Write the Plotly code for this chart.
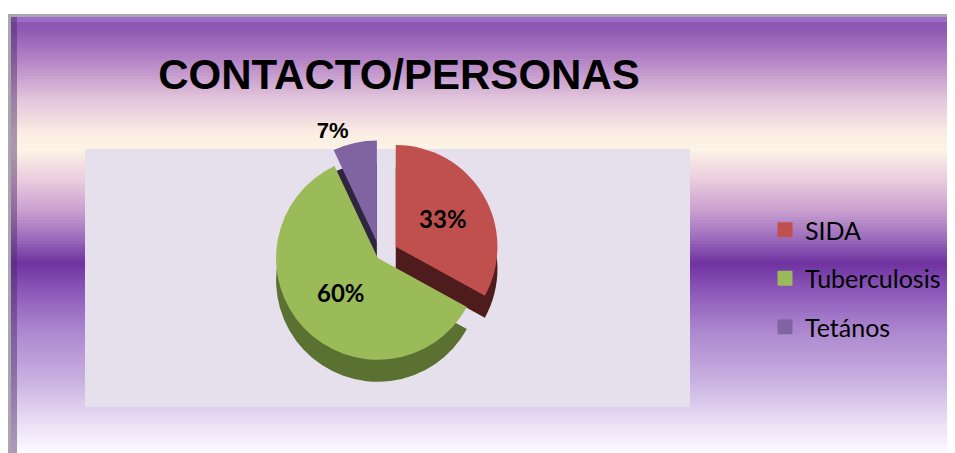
import plotly.graph_objects as go

# ---- data ----
categories = ["SIDA", "Tuberculosis", "Tetános"]
values = [33, 60, 7]
title_text = "CONTACTO/PERSONAS"

# ---- styling ----
top_colors = ["#c0504d", "#9bbb59", "#8064a2"]
side_colors = ["#4e1c1c", "#5a7132", "#30253f"]
pulls = [0.18, 0.03, 0.14]

OFF = 8  # page body margin
W, H = 955 - OFF, 453 - OFF


def px(x):
    return (x - OFF) / W


def py(y):
    return 1 - (y - OFF) / H


# background gradient stops (pixel y, rgb)
stops = [
    (16, (139, 85, 179)),
    (30, (142, 90, 180)),
    (60, (180, 132, 197)),
    (100, (228, 198, 220)),
    (135, (252, 238, 228)),
    (150, (253, 243, 230)),
    (180, (234, 204, 222)),
    (210, (202, 160, 208)),
    (240, (152, 104, 186)),
    (263, (112, 50, 160)),
    (290, (138, 86, 184)),
    (330, (172, 134, 206)),
    (380, (200, 176, 224)),
    (420, (232, 220, 244)),
    (453, (253, 250, 255)),
]


def color_at(y):
    for (y0, c0), (y1, c1) in zip(stops[:-1], stops[1:]):
        if y0 <= y <= y1:
            t = (y - y0) / (y1 - y0)
            return "rgb(%d,%d,%d)" % tuple(round(a + (b - a) * t) for a, b in zip(c0, c1))
    return "rgb(%d,%d,%d)" % stops[-1][1]


shapes = []
y = 16
while y < 453:
    shapes.append(dict(type="rect", xref="paper", yref="paper", layer="below",
                       x0=px(10), x1=1, y0=max(py(y + 3), 0), y1=py(y),
                       fillcolor=color_at(y + 1.5), line=dict(width=0)))
    y += 3

# frame / bevel
shapes += [
    dict(type="rect", xref="paper", yref="paper", layer="below",
         x0=px(8), x1=px(11), y0=0, y1=py(14),
         fillcolor="rgb(170,165,175)", line=dict(width=0)),
    dict(type="rect", xref="paper", yref="paper", layer="below",
         x0=px(8), x1=1, y0=py(17), y1=py(14),
         fillcolor="rgb(170,165,175)", line=dict(width=0)),
    dict(type="rect", xref="paper", yref="paper", layer="below",
         x0=px(11), x1=1, y0=py(22), y1=py(17),
         fillcolor="rgba(160,110,205,0.9)", line=dict(width=0)),
    dict(type="rect", xref="paper", yref="paper", layer="below",
         x0=px(11), x1=px(17), y0=0, y1=py(17),
         fillcolor="rgba(70,40,100,0.45)", line=dict(width=0)),
    # plot area
    dict(type="rect", xref="paper", yref="paper", layer="below",
         x0=px(85), x1=px(690), y0=py(407), y1=py(149),
         fillcolor="#e6e0ec", line=dict(width=0)),
]

fig = go.Figure()

# depth (side) of the pie
fig.add_trace(go.Pie(
    labels=categories, values=values, sort=False, direction="clockwise",
    rotation=0, pull=pulls,
    marker=dict(colors=side_colors, line=dict(width=0)),
    textinfo="none", hoverinfo="skip", showlegend=False,
    domain=dict(x=[px(260), px(500)], y=[py(398), py(158)]),
))

# top face
fig.add_trace(go.Pie(
    labels=categories, values=values, sort=False, direction="clockwise",
    rotation=0, pull=pulls,
    marker=dict(colors=top_colors, line=dict(width=0)),
    texttemplate="<b>%{percent:.0%}</b>",
    textposition=["inside", "inside", "outside"],
    textfont=dict(color="black",
                  family=["Lato, Open Sans", "Lato, Open Sans", "Liberation Sans, Arial"],
                  size=[24, 24, 22]),
    insidetextorientation="horizontal",
    showlegend=False,
    domain=dict(x=[px(260), px(500)], y=[py(376), py(136)]),
))

# legend entries
for name, col in zip(categories, top_colors):
    fig.add_trace(go.Scatter(
        x=[None], y=[None], mode="markers", name=name, legendgroup=name,
        marker=dict(symbol="square", size=15, color=col),
    ))

fig.update_layout(
    width=W, height=H,
    margin=dict(l=0, r=0, t=0, b=0),
    paper_bgcolor="white",
    plot_bgcolor="rgba(0,0,0,0)",
    shapes=shapes,
    xaxis=dict(visible=False),
    yaxis=dict(visible=False),
    title=dict(text="<b>" + title_text + "</b>", x=px(399), xanchor="center",
               y=py(74), yanchor="middle",
               font=dict(family="Liberation Sans, Arial", size=42, color="black")),
    legend=dict(x=px(765), y=py(207), xanchor="left", yanchor="top",
                bgcolor="rgba(0,0,0,0)", tracegroupgap=13,
                font=dict(family="Lato, Open Sans", size=25, color="black")),
)

fig.write_html("out.html")
